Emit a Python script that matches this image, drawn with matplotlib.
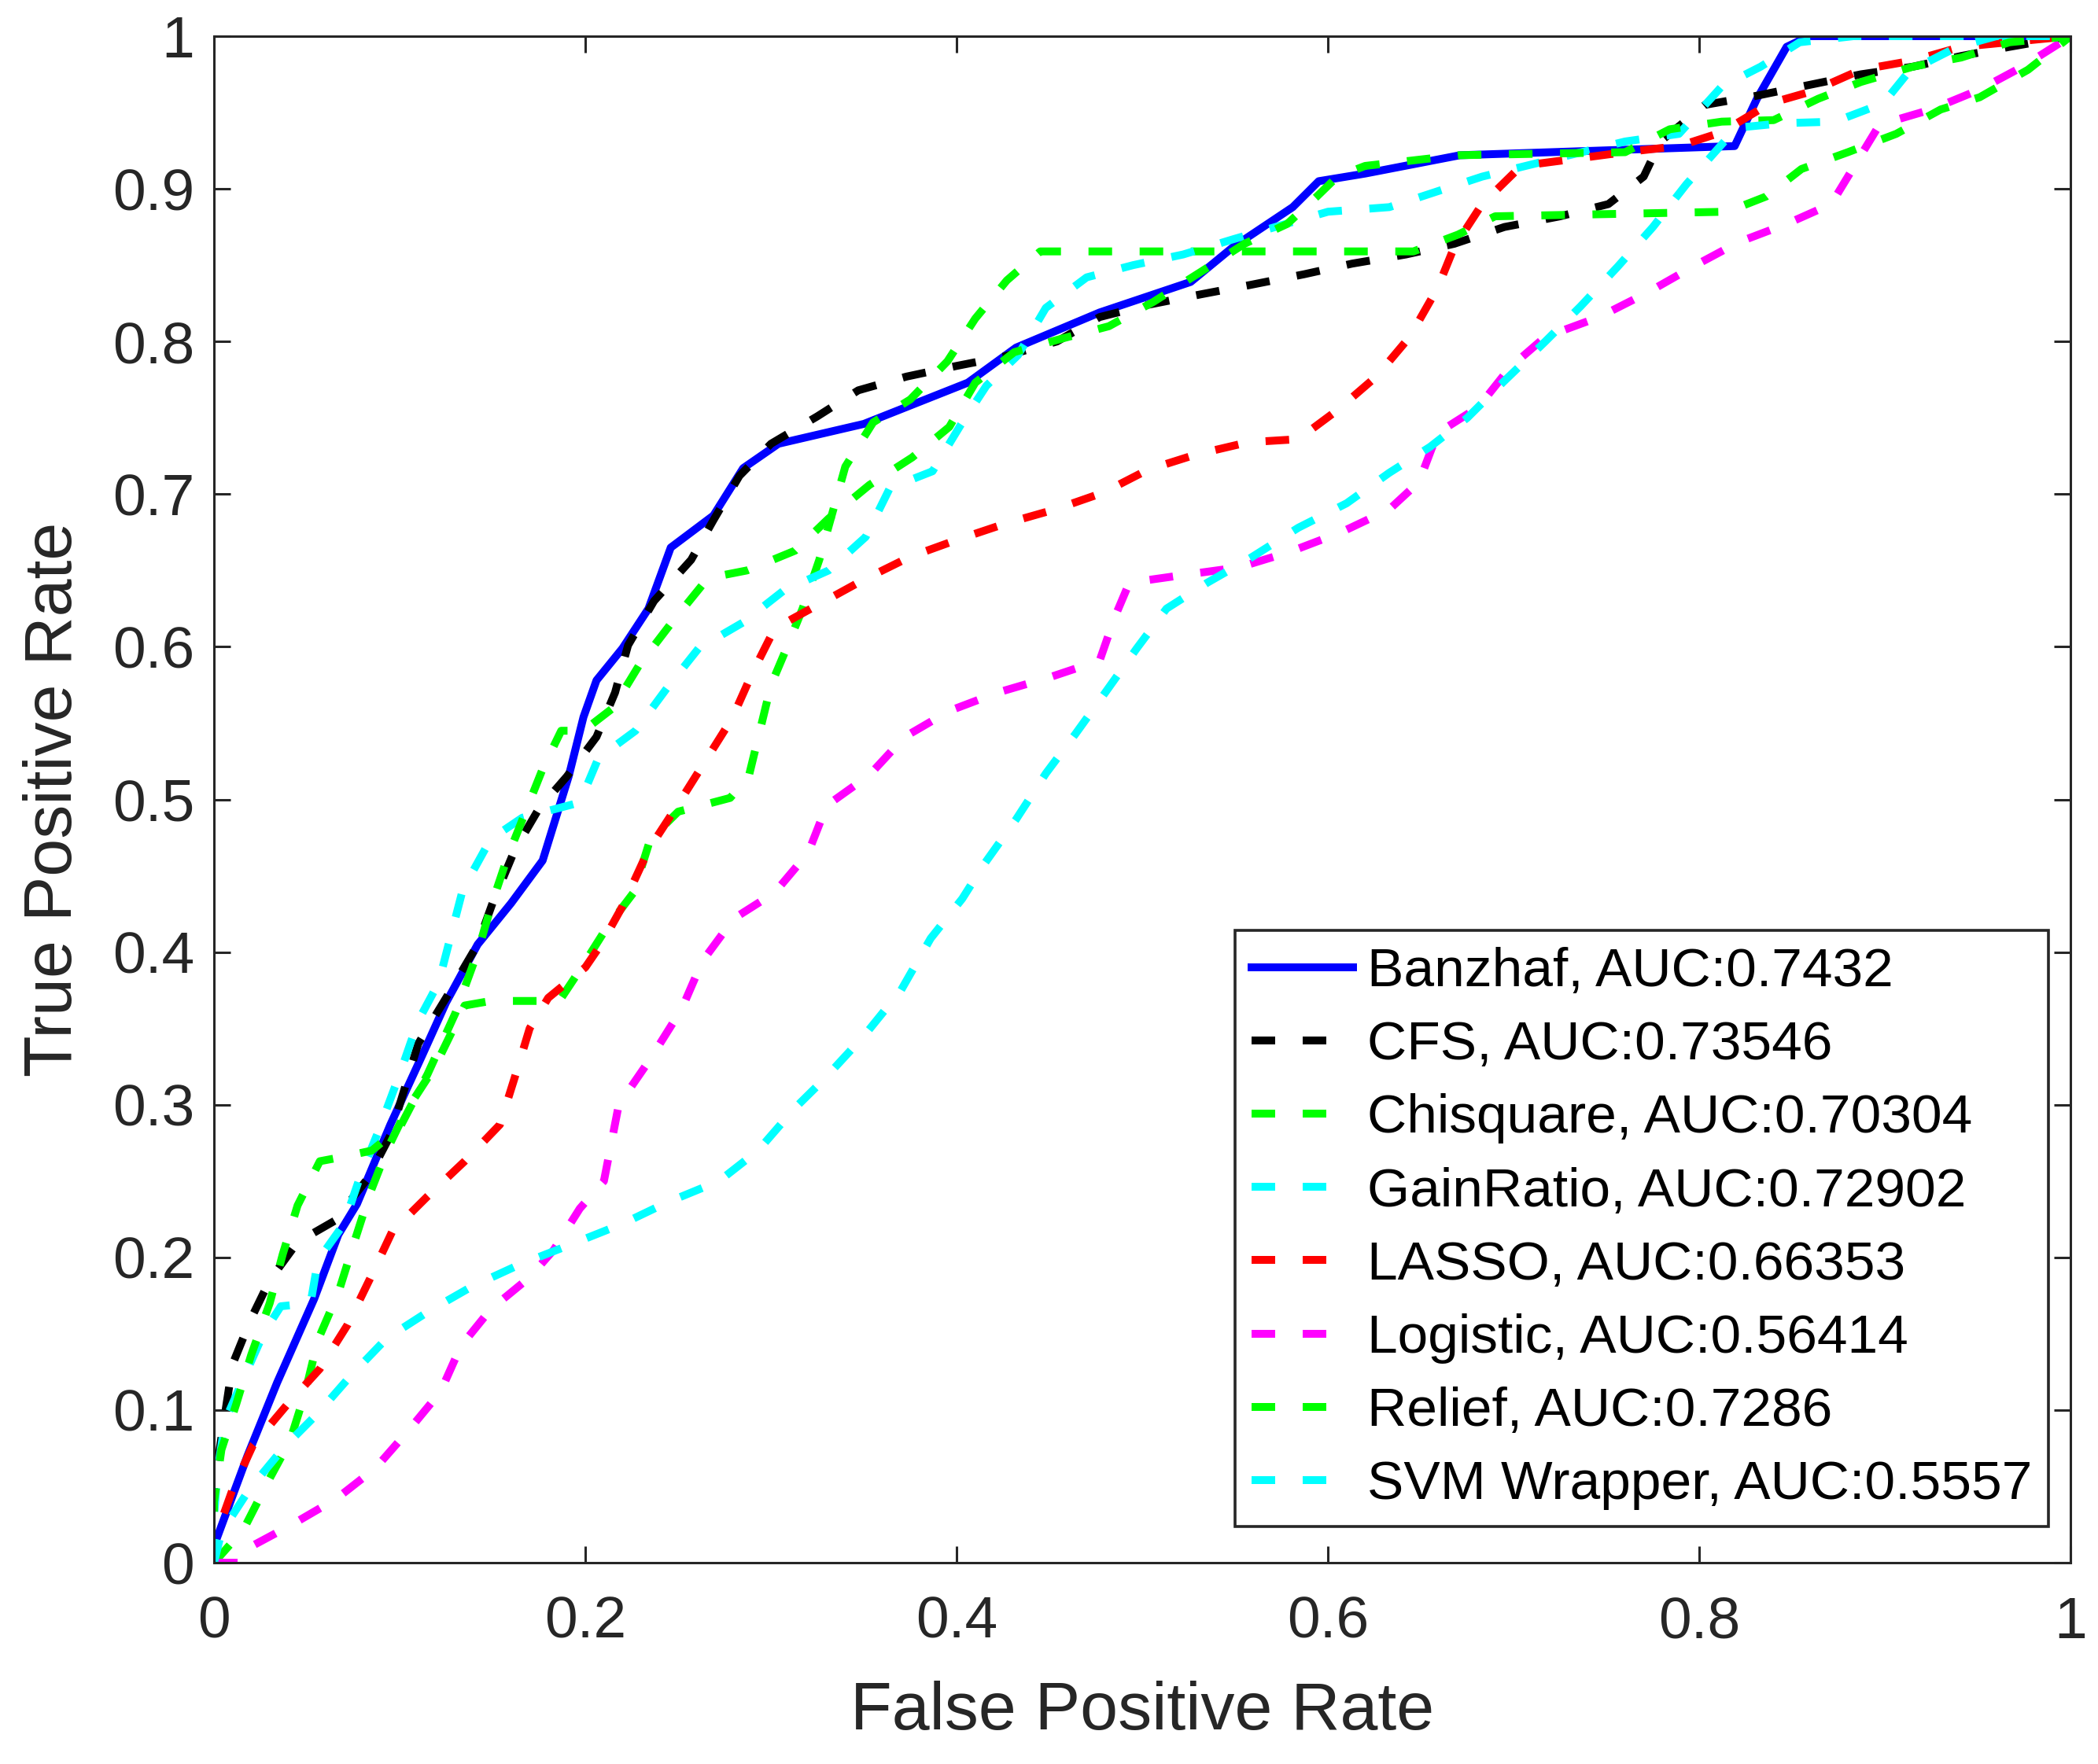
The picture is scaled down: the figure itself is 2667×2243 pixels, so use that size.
import matplotlib
matplotlib.use("Agg")
import matplotlib.pyplot as plt

plt.rcParams['font.family'] = ['Liberation Sans', 'DejaVu Sans']

# ROC points
banzhaf_x = [0, 0.0, 0.018, 0.034, 0.054, 0.067, 0.077, 0.095, 0.112, 0.125, 0.142, 0.160, 0.177,
             0.191, 0.199, 0.206, 0.220, 0.234, 0.246, 0.269, 0.285, 0.304, 0.350, 0.406, 0.432,
             0.477, 0.526, 0.549, 0.581, 0.595, 0.62, 0.671, 0.819, 0.831, 0.847, 0.859, 1.0]
banzhaf_y = [0, 0.011, 0.07, 0.118, 0.173, 0.215, 0.235, 0.287, 0.332, 0.367, 0.405, 0.432, 0.46,
             0.515, 0.554, 0.578, 0.599, 0.625, 0.665, 0.686, 0.717, 0.733, 0.746, 0.773, 0.796,
             0.819, 0.839, 0.862, 0.888, 0.905, 0.91, 0.922, 0.928, 0.959, 0.993, 1.0, 1.0]

cfs_x = [0, 0, 0.005, 0.01, 0.02, 0.03, 0.045, 0.065, 0.083, 0.095, 0.11, 0.125, 0.142, 0.15, 0.162,
         0.175, 0.19, 0.206, 0.216, 0.223, 0.237, 0.257, 0.269, 0.283, 0.30, 0.325, 0.347, 0.373,
         0.40, 0.425, 0.454, 0.477, 0.503, 0.532, 0.558, 0.587, 0.613, 0.642, 0.668, 0.695, 0.725,
         0.751, 0.77, 0.779, 0.803, 0.831, 0.859, 0.887, 0.915, 0.941, 0.967, 1.0]
cfs_y = [0, 0.05, 0.09, 0.13, 0.16, 0.185, 0.21, 0.224, 0.252, 0.28, 0.34, 0.37, 0.405, 0.432, 0.467,
         0.494, 0.515, 0.541, 0.57, 0.601, 0.63, 0.657, 0.683, 0.712, 0.733, 0.751, 0.768, 0.777,
         0.784, 0.79, 0.80, 0.816, 0.824, 0.831, 0.837, 0.844, 0.851, 0.857, 0.864, 0.875, 0.882,
         0.89, 0.908, 0.931, 0.955, 0.961, 0.968, 0.975, 0.98, 0.987, 0.993, 1.0]

chisq_x = [0, 0.016, 0.029, 0.041, 0.049, 0.056, 0.067, 0.075, 0.084, 0.093, 0.103, 0.119, 0.135,
           0.149, 0.186, 0.198, 0.211, 0.226, 0.235, 0.25, 0.278, 0.288, 0.295, 0.30, 0.308, 0.317,
           0.326, 0.34, 0.355, 0.375, 0.395, 0.41, 0.427, 0.445, 0.646, 0.67, 0.69, 0.815, 0.836,
           0.855, 0.88, 0.906, 0.93, 0.951, 0.977, 1.0]
chisq_y = [0, 0.022, 0.053, 0.08, 0.111, 0.146, 0.177, 0.208, 0.242, 0.27, 0.295, 0.325, 0.365,
           0.368, 0.368, 0.39, 0.415, 0.439, 0.474, 0.492, 0.501, 0.515, 0.55, 0.575, 0.598, 0.625,
           0.657, 0.718, 0.747, 0.762, 0.787, 0.815, 0.84, 0.859, 0.859, 0.87, 0.882, 0.885, 0.895,
           0.913, 0.924, 0.936, 0.952, 0.96, 0.978, 1.0]

gain_x = [0, 0, 0.002, 0.006, 0.016, 0.027, 0.036, 0.052, 0.056, 0.070, 0.079, 0.088, 0.100, 0.11,
          0.121, 0.134, 0.149, 0.166, 0.197, 0.207, 0.227, 0.244, 0.261, 0.285, 0.307, 0.331, 0.351,
          0.364, 0.387, 0.402, 0.416, 0.433, 0.448, 0.47, 0.495, 0.522, 0.549, 0.60, 0.633, 0.683,
          0.76, 0.789, 0.812, 0.833, 0.854, 0.883, 1.0]
gain_y = [0, 0.03, 0.061, 0.093, 0.121, 0.151, 0.168, 0.170, 0.198, 0.222, 0.254, 0.281, 0.32, 0.355,
          0.38, 0.441, 0.474, 0.488, 0.498, 0.527, 0.545, 0.573, 0.599, 0.616, 0.637, 0.65, 0.672,
          0.704, 0.715, 0.745, 0.771, 0.791, 0.822, 0.842, 0.85, 0.857, 0.867, 0.885, 0.888, 0.908,
          0.931, 0.936, 0.967, 0.98, 0.996, 1.0, 1.0]

lasso_x = [0, 0, 0.01, 0.021, 0.039, 0.057, 0.072, 0.084, 0.096, 0.115, 0.135, 0.154, 0.162, 0.170,
           0.18, 0.20, 0.209, 0.22, 0.234, 0.249, 0.264, 0.279, 0.29, 0.302, 0.326, 0.350, 0.375,
           0.40, 0.427, 0.453, 0.479, 0.503, 0.529, 0.557, 0.584, 0.605, 0.626, 0.644, 0.659, 0.668,
           0.683, 0.704, 0.76, 0.789, 0.812, 0.838, 0.861, 0.887, 0.915, 0.941, 1.0]
lasso_y = [0, 0.014, 0.048, 0.077, 0.103, 0.127, 0.156, 0.186, 0.217, 0.24, 0.263, 0.287, 0.318, 0.35,
           0.37, 0.39, 0.406, 0.43, 0.467, 0.495, 0.524, 0.553, 0.583, 0.612, 0.628, 0.644, 0.659,
           0.67, 0.681, 0.69, 0.701, 0.716, 0.726, 0.734, 0.736, 0.755, 0.777, 0.803, 0.835, 0.862,
           0.89, 0.915, 0.924, 0.928, 0.937, 0.956, 0.964, 0.978, 0.984, 0.993, 1.0]

logit_x = [0, 0.015, 0.019, 0.042, 0.066, 0.087, 0.105, 0.122, 0.133, 0.149, 0.170, 0.183, 0.197,
           0.21, 0.218, 0.235, 0.252, 0.263, 0.280, 0.302, 0.320, 0.330, 0.353, 0.372, 0.396, 0.422,
           0.45, 0.477, 0.485, 0.493, 0.522, 0.552, 0.579, 0.607, 0.633, 0.649, 0.659, 0.681, 0.698,
           0.717, 0.746, 0.772, 0.798, 0.821, 0.847, 0.871, 0.885, 0.897, 0.925, 0.951, 0.974, 1.0]
logit_y = [0, 0.0, 0.01, 0.025, 0.042, 0.062, 0.087, 0.112, 0.142, 0.166, 0.187, 0.205, 0.232,
           0.25, 0.30, 0.33, 0.363, 0.394, 0.422, 0.439, 0.465, 0.496, 0.516, 0.541, 0.558, 0.57,
           0.58, 0.591, 0.619, 0.642, 0.647, 0.652, 0.662, 0.675, 0.69, 0.708, 0.74, 0.757, 0.783,
           0.803, 0.816, 0.832, 0.85, 0.865, 0.877, 0.89, 0.918, 0.942, 0.952, 0.965, 0.98, 1.0]

relief_x = [0, 0, 0.004, 0.012, 0.02, 0.03, 0.037, 0.045, 0.057, 0.07, 0.085, 0.10, 0.115, 0.13,
            0.142, 0.15, 0.158, 0.177, 0.187, 0.199, 0.215, 0.229, 0.246, 0.266, 0.287, 0.313, 0.331,
            0.353, 0.376, 0.396, 0.41, 0.431, 0.457, 0.482, 0.506, 0.532, 0.555, 0.578, 0.594, 0.605,
            0.62, 0.67, 0.76, 0.784, 0.812, 0.84, 0.864, 0.887, 0.915, 0.941, 0.967, 1.0]
relief_y = [0, 0.04, 0.074, 0.104, 0.136, 0.17, 0.202, 0.234, 0.263, 0.266, 0.27, 0.285, 0.32, 0.36,
            0.40, 0.433, 0.462, 0.52, 0.545, 0.545, 0.56, 0.588, 0.615, 0.645, 0.65, 0.663, 0.684,
            0.706, 0.724, 0.744, 0.773, 0.793, 0.802, 0.81, 0.826, 0.846, 0.864, 0.877, 0.895, 0.908,
            0.915, 0.922, 0.924, 0.939, 0.944, 0.945, 0.959, 0.97, 0.98, 0.986, 0.996, 1.0]

svm_x = [0, 0.004, 0.019, 0.038, 0.056, 0.074, 0.093, 0.116, 0.139, 0.164, 0.187, 0.22, 0.244, 0.272,
         0.293, 0.313, 0.328, 0.35, 0.370, 0.386, 0.403, 0.415, 0.432, 0.448, 0.464, 0.48, 0.497,
         0.513, 0.535, 0.558, 0.584, 0.61, 0.633, 0.655, 0.675, 0.694, 0.717, 0.736, 0.756, 0.775,
         0.793, 0.82, 0.845, 0.873, 0.899, 0.913, 0.939, 0.96, 1.0]
svm_y = [0, 0.02, 0.048, 0.076, 0.098, 0.123, 0.147, 0.165, 0.181, 0.195, 0.206, 0.222, 0.236, 0.25,
         0.27, 0.298, 0.316, 0.345, 0.375, 0.409, 0.435, 0.458, 0.487, 0.517, 0.543, 0.57, 0.599,
         0.625, 0.642, 0.658, 0.678, 0.694, 0.714, 0.731, 0.75, 0.773, 0.80, 0.823, 0.849, 0.875,
         0.903, 0.94, 0.943, 0.944, 0.956, 0.977, 0.993, 1.0, 1.0]

labels = ['Banzhaf, AUC:0.7432', 'CFS, AUC:0.73546', 'Chisquare, AUC:0.70304',
          'GainRatio, AUC:0.72902', 'LASSO, AUC:0.66353', 'Logistic, AUC:0.56414',
          'Relief, AUC:0.7286', 'SVM Wrapper, AUC:0.5557']
xs = [banzhaf_x, cfs_x, chisq_x, gain_x, lasso_x, logit_x, relief_x, svm_x]
ys = [banzhaf_y, cfs_y, chisq_y, gain_y, lasso_y, logit_y, relief_y, svm_y]
colors = ['#0000ff', '#000000', '#00ff00', '#00ffff', '#ff0000', '#ff00ff', '#00ff00', '#00ffff']

fig = plt.figure(figsize=(13.335, 11.215), dpi=200)
ax = fig.add_axes([0.102, 0.1141, 0.885, 0.8654])

for i in range(len(xs)):
    if i == 0:
        ax.plot(xs[i], ys[i], color=colors[i], lw=3.6, label=labels[i])
    else:
        ax.plot(xs[i], ys[i], color=colors[i], lw=3.6, dashes=(3, 3.5), label=labels[i])

ax.set_xlim(0, 1)
ax.set_ylim(0, 1)
ax.set_xticks([0, 0.2, 0.4, 0.6, 0.8, 1])
ax.set_xticklabels(['0', '0.2', '0.4', '0.6', '0.8', '1'])
ax.set_yticks([0, 0.1, 0.2, 0.3, 0.4, 0.5, 0.6, 0.7, 0.8, 0.9, 1])
ax.set_yticklabels(['0', '0.1', '0.2', '0.3', '0.4', '0.5', '0.6', '0.7', '0.8', '0.9', '1'])
ax.tick_params(direction='in', length=7.5, width=1.1, top=True, right=True,
               labelsize=27, colors='#262626')
ax.tick_params(axis='x', pad=15)
ax.tick_params(axis='y', pad=9)
for s in ax.spines.values():
    s.set_linewidth(1.1)
    s.set_color('#262626')

ax.set_xlabel('False Positive Rate', fontsize=31, color='#262626', labelpad=14)
ax.set_ylabel('True Positive Rate', fontsize=31, color='#262626', labelpad=12)

leg = ax.legend(loc='lower right', bbox_to_anchor=(0.988, 0.0237), borderaxespad=0,
                fontsize=25, handlelength=1.86, handletextpad=0.25, labelspacing=0.42,
                borderpad=0.3, fancybox=False, framealpha=1)
leg.get_frame().set_edgecolor('#262626')
leg.get_frame().set_linewidth(1.3)

fig.savefig('out.png', dpi=200)
